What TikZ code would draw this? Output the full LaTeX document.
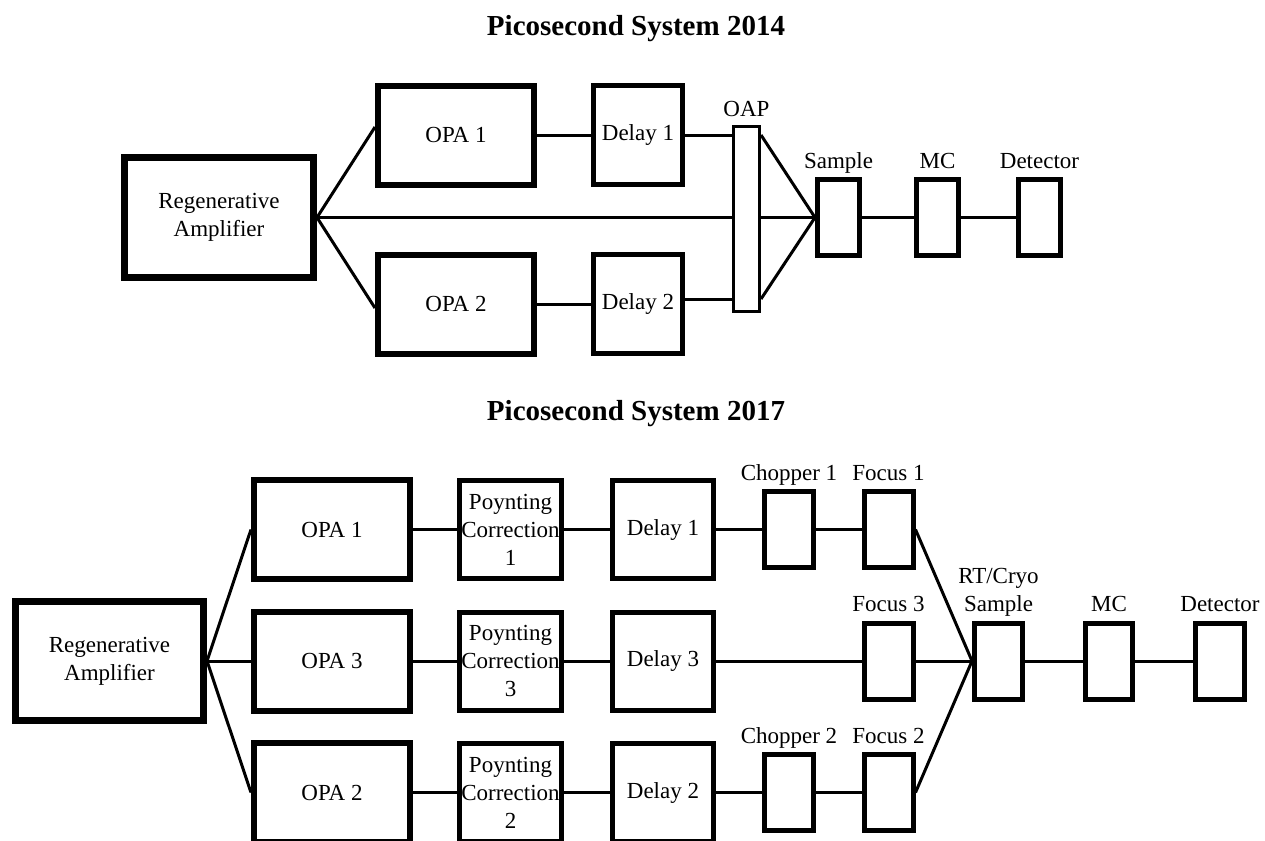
\documentclass[tikz,border=0pt]{standalone}
\usepackage{fontspec}
\setmainfont{Liberation Serif}
\tikzset{
  box/.style={draw, inner sep=0pt, align=center, font=\fontsize{11.5}{14}\selectfont},
  amp/.style={box, line width=3.5pt, minimum width=94.5pt, minimum height=60pt},
  opa/.style={box, line width=3pt, minimum width=78pt, minimum height=49.5pt},
  delaybox/.style={box, line width=2.5pt, minimum width=44.5pt, minimum height=49.5pt},
  stage/.style={box, line width=2.5pt, minimum width=51pt, minimum height=49pt},
  optic/.style={box, line width=2.5pt, minimum width=21pt, minimum height=38pt},
  slot/.style={box, line width=2.5pt, minimum width=24.5pt, minimum height=38pt},
  link/.style={line width=1.5pt},
  tag/.style={anchor=base, inner sep=0pt, align=center, font=\fontsize{11.5}{14}\selectfont},
  title/.style={anchor=base, font=\fontsize{14.5}{17}\selectfont\bfseries},
}
\begin{document}
\begin{tikzpicture}[x=0.5pt, y=-0.5pt, label distance=4.5pt]
\useasboundingbox (0,0) rectangle (1265,841);

% 2014 set-up
\node[title] (ttlA) at (636,35) {Picosecond System 2014};
\node[amp] (ampA) at (219,217.5) {Regenerative\\Amplifier};
\node[opa] (opaA1) at (456,135) {OPA 1};
\node[opa] (opaA2) at (456,304) {OPA 2};
\node[delaybox] (dlA1) at (638,135) {Delay 1};
\node[delaybox] (dlA2) at (638,304) {Delay 2};
\node[box, line width=1.5pt, minimum width=13pt, minimum height=92.5pt,
  label={[tag]above:OAP}] (oap) at (746.5,219) {};
\node[optic, label distance=6.25pt, label={[tag]above:Sample}] (smpA) at (838.5,217.5) {};
\node[optic, label distance=6.25pt, label={[tag]above:MC}] (mcA) at (937.5,217.5) {};
\node[optic, label distance=7.25pt, label={[tag]above:Detector}] (detA) at (1039.5,217.5) {};

\draw[link] (ampA.east) -- ([yshift=4pt]opaA1.west);
\draw[link] (ampA.east) -- ([yshift=-2pt]opaA2.west);
\draw[link] (opaA1) -- (dlA1);
\draw[link] (opaA2) -- (dlA2);
\draw[link] (dlA1.east) -- (dlA1.east -| oap.west);
\draw[link] ([yshift=2.5pt]dlA2.east) -- ([yshift=2.5pt]dlA2.east -| oap.west);
\draw[link] (ampA.east) -- (ampA.east -| oap.west);
\draw[link] (dlA1.east -| oap.east) -- (smpA.west);
\draw[link] (ampA.east -| oap.east) -- (smpA.west);
\draw[link] ([yshift=2.5pt]dlA2.east -| oap.east) -- (smpA.west);
\draw[link] (smpA) -- (mcA);
\draw[link] (mcA) -- (detA);

% 2017 set-up
\node[title] (ttlB) at (636,420) {Picosecond System 2017};
\node[amp, minimum width=94pt, minimum height=59.5pt] (ampB) at (109.5,661) {Regenerative\\Amplifier};
\foreach \n/\y in {1/529.5,3/661,2/792.5}{
  \node[opa] (opaB\n) at (332,\y) {OPA \n};
  \node[stage] (pc\n) at (510.5,\y) {Poynting\\Correction\\\n};
  \node[stage, minimum width=50.5pt] (dlB\n) at (663,\y) {Delay \n};
  \draw[link] (ampB.east) -- (opaB\n.west);
  \draw[link] (opaB\n) -- (pc\n);
  \draw[link] (pc\n) -- (dlB\n);
}
\foreach \n/\y in {1/529.5,2/792.5}{
  \node[slot, label={[tag]above:Chopper \n}] (chp\n) at (789,\y) {};
  \node[slot, label={[tag]above:Focus \n}] (foc\n) at (888.5,\y) {};
  \draw[link] (dlB\n) -- (chp\n);
  \draw[link] (chp\n) -- (foc\n);
}
\node[slot, label distance=4pt, label={[tag]above:Focus 3}] (foc3) at (888.5,661) {};
\node[slot, minimum width=24pt, label distance=4pt,
  label={[tag]above:RT/Cryo\\Sample}] (smpB) at (998.5,661) {};
\node[slot, minimum width=23.5pt, label distance=7.5pt, label={[tag]above:MC}] (mcB) at (1109,661) {};
\node[slot, label distance=7.5pt, label={[tag]above:Detector}] (detB) at (1220,661) {};

\draw[link] (dlB3) -- (foc3);
\draw[link] (foc1.east) -- (smpB.west);
\draw[link] (foc3) -- (smpB);
\draw[link] (foc2.east) -- (smpB.west);
\draw[link] (smpB) -- (mcB);
\draw[link] (mcB) -- (detB);
\end{tikzpicture}
\end{document}
